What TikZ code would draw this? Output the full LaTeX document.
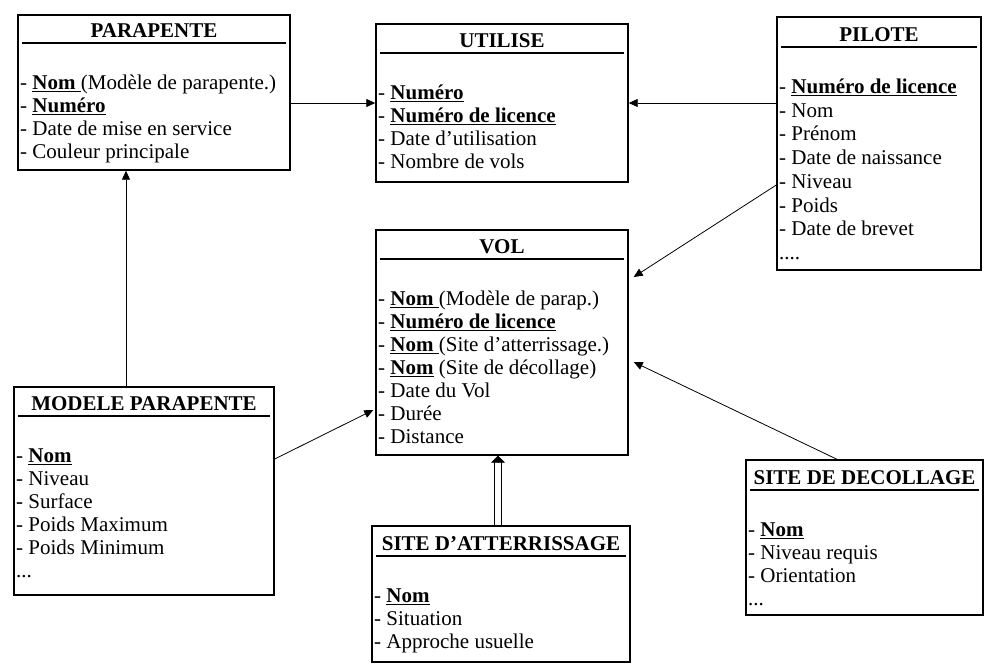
\documentclass[tikz,border=0pt]{standalone}
\usepackage{fontspec}
\setmainfont{Liberation Serif}
\usetikzlibrary{arrows.meta}
\def\lsp{23}
\newcommand\threedots{...}
\newcommand\fourdots{....}
\newcommand\entity[8]{%
  \node[ebox, minimum width={#4pt-#2pt}, minimum height={#5pt-#3pt}] (#1) at ({(#2+#4)/2},{(#3+#5)/2}) {};
  \node[anchor=base] (#1-t) at ({(#2+#4)/2},{#6-6}) {\textbf{#7}};
  \draw[tline] ({#2+4},#6) -- ({#4-4},#6);
  \foreach \t [count=\i from 0] in {#8}
    \node[anchor=base west] (#1-\i) at ({#2+2},{#6+46.5+\lsp*\i}) {\t};
}
\begin{document}
\begin{tikzpicture}[x=1pt,y=-1pt,
  every node/.style={font=\fontsize{21}{23}\selectfont, inner sep=0pt},
  ebox/.style={draw, line width=1.4pt, rectangle, inner sep=0pt},
  tline/.style={line width=1.2pt},
  arr/.style={line width=0.8pt, -{Triangle[length=9pt,width=8pt]}},
  dline/.style={line width=1pt},
  dtip/.style={line width=0.8pt, -{Triangle[length=7pt,width=14pt]}}
]
\path[fill=white,use as bounding box] (0,0) rectangle (985,664);

\entity{para}{18}{15}{290}{170}{43}{PARAPENTE}{- \underline{\textbf{Nom}\ }(Modèle de parapente.),- \underline{\textbf{Numéro}},- Date de mise en service,- Couleur principale}

\entity{util}{376}{24}{628}{182}{53}{UTILISE}{- \underline{\textbf{Numéro}},- \underline{\textbf{Numéro de licence}},- Date d’utilisation,- Nombre de vols}

\def\lsp{23.7}
\entity{pilote}{777}{17}{981}{270}{47}{PILOTE}{- \underline{\textbf{Numéro de licence}},- Nom,- Prénom,- Date de naissance,- Niveau,- Poids,- Date de brevet,\fourdots}
\def\lsp{23}

\entity{vol}{376}{230}{628}{455}{259}{VOL}{- \underline{\textbf{Nom}\ }(Modèle de parap.),- \underline{\textbf{Numéro de licence}},- \underline{\textbf{Nom}\ }(Site d’atterrissage.),- \underline{\textbf{Nom}} (Site de décollage),- Date du Vol,- Durée,- Distance}

\entity{modele}{14}{387}{274}{595}{416}{MODELE PARAPENTE}{- \underline{\textbf{Nom}},- Niveau,- Surface,- Poids Maximum,- Poids Minimum,\threedots}

\entity{siteatt}{372}{526}{630}{662}{556}{SITE D’ATTERRISSAGE}{- \underline{\textbf{Nom}},- Situation,- Approche usuelle}

\entity{sitedec}{746}{460}{983}{615}{490}{SITE DE DECOLLAGE}{- \underline{\textbf{Nom}},- Niveau requis,- Orientation,\threedots}

\draw[arr] (para.east |- util.west) -- (util.west);
\draw[arr] (pilote.west |- util.east) -- (util.east);
\draw[arr] ([yshift=-41.5pt]pilote.west) -- ([xshift=5pt,yshift=65.5pt]vol.east);
\draw[arr] ([xshift=-27.5pt]sitedec.north) -- ([xshift=5pt,yshift=-19.5pt]vol.east);
\draw[arr] ([yshift=32pt]modele.east) -- ([xshift=-2pt,yshift=-67.5pt]vol.west);
\draw[arr] ([xshift=-18pt]modele.north) -- ([xshift=-18pt]modele.north |- para.south);
\draw[dline] ([xshift=-6.5pt]siteatt.north) -- ([xshift=-6.5pt,yshift=-6pt]siteatt.north |- vol.south);
\draw[dline] ([xshift=0.5pt]siteatt.north) -- ([xshift=0.5pt,yshift=-6pt]siteatt.north |- vol.south);
\draw[dtip] ([xshift=-3pt,yshift=-6pt]siteatt.north |- vol.south) -- ([xshift=-3pt]siteatt.north |- vol.south);
\end{tikzpicture}
\end{document}
